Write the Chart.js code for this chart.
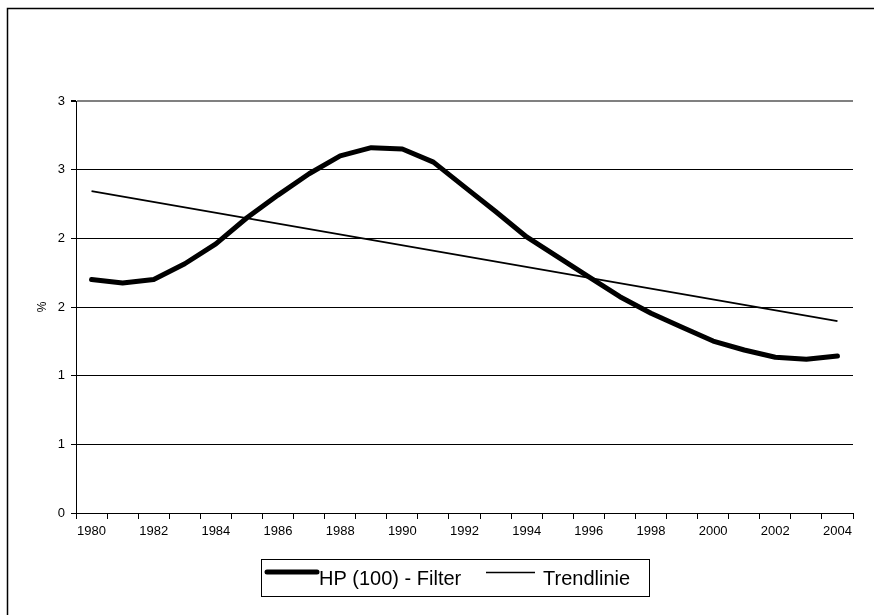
<!DOCTYPE html>
<html>
<head>
<meta charset="utf-8">
<script src="https://cdn.jsdelivr.net/npm/chart.js@4/dist/chart.umd.min.js"></script>
<style>
  html, body { margin: 0; padding: 0; background: #fff; }
  #wrap { width: 874px; height: 615px; position: relative; }
</style>
</head>
<body>
<div id="wrap"><canvas id="c" width="874" height="615"></canvas></div>
<script>
const years = ['1980','1981','1982','1983','1984','1985','1986','1987','1988','1989','1990','1991','1992','1993','1994','1995','1996','1997','1998','1999','2000','2001','2002','2003','2004'];
const hpFilter = [1.70, 1.675, 1.70, 1.815, 1.96, 2.15, 2.315, 2.47, 2.60, 2.66, 2.65, 2.555, 2.375, 2.195, 2.01, 1.865, 1.72, 1.575, 1.455, 1.352, 1.252, 1.187, 1.134, 1.119, 1.143];
const trendStart = 2.344;
const trendEnd = 1.397;
const yTickLabels = ['0', '1', '1', '2', '2', '3', '3'];
const seriesLabels = ['HP (100) - Filter', 'Trendlinie'];
const yTitle = '%';

const trendData = years.map((y, i) => i === 0 ? trendStart : (i === years.length - 1 ? trendEnd : null));

const FONT = '"Liberation Sans", Arial, sans-serif';

const framePlugin = {
  id: 'frame',
  beforeDraw(chart) {
    const ctx = chart.ctx;
    ctx.save();
    ctx.fillStyle = '#fff';
    ctx.fillRect(0, 0, chart.width, chart.height);
    ctx.strokeStyle = '#000';
    ctx.lineWidth = 1.5;
    ctx.strokeRect(7.5, 8.5, 1000, 800);
    ctx.restore();
  }
};

const legendPlugin = {
  id: 'customLegend',
  afterDraw(chart) {
    const ctx = chart.ctx;
    const ds = chart.data.datasets;
    ctx.save();
    ctx.strokeStyle = '#000';
    ctx.lineWidth = 1;
    ctx.strokeRect(261.5, 559.5, 388, 37);
    ctx.font = '20px ' + FONT;
    ctx.fillStyle = '#000';
    ctx.textBaseline = 'alphabetic';
    ctx.lineCap = 'round';
    ctx.lineWidth = ds[0].borderWidth;
    ctx.beginPath(); ctx.moveTo(267, 572); ctx.lineTo(317, 572); ctx.stroke();
    ctx.fillText(ds[0].label, 319, 584.5);
    ctx.lineCap = 'butt';
    ctx.lineWidth = 1.4;
    ctx.beginPath(); ctx.moveTo(486, 572.5); ctx.lineTo(535, 572.5); ctx.stroke();
    ctx.fillText(ds[1].label, 543, 584.5);
    ctx.restore();
  }
};

new Chart(document.getElementById('c'), {
  type: 'line',
  data: {
    labels: years,
    datasets: [
      {
        label: seriesLabels[0],
        data: hpFilter,
        borderColor: '#000',
        backgroundColor: '#000',
        borderWidth: 5,
        borderCapStyle: 'round',
        borderJoinStyle: 'round',
        pointRadius: 0,
        tension: 0,
        fill: false
      },
      {
        label: seriesLabels[1],
        data: trendData,
        spanGaps: true,
        borderColor: '#000',
        backgroundColor: '#000',
        borderWidth: 1.8,
        pointRadius: 0,
        tension: 0,
        fill: false
      }
    ]
  },
  options: {
    responsive: false,
    animation: false,
    devicePixelRatio: 1,
    layout: { padding: { top: 101, right: 21, left: 0, bottom: 0 } },
    plugins: {
      legend: { display: false },
      tooltip: { enabled: false },
      title: { display: false }
    },
    scales: {
      x: {
        type: 'category',
        offset: true,
        afterFit(scale) { scale.height = 102; },
        border: { display: true, color: '#000', width: 1 },
        grid: {
          offset: true,
          drawOnChartArea: true,
          drawTicks: true,
          tickLength: 6,
          tickColor: '#000',
          color: (ctx) => ctx.index === years.length ? '#808080' : 'rgba(0,0,0,0)',
          lineWidth: (ctx) => ctx.index === years.length ? 2 : 1
        },
        ticks: {
          autoSkip: false,
          maxRotation: 0,
          minRotation: 0,
          padding: 5,
          color: '#000',
          font: { family: FONT, size: 13 },
          callback: (val, idx) => idx % 2 === 0 ? years[idx] : ''
        }
      },
      y: {
        min: 0,
        max: 3,
        afterFit(scale) { scale.width = 76; },
        border: { display: true, color: '#000', width: 1 },
        grid: {
          drawTicks: true,
          tickLength: 5,
          tickColor: '#000',
          color: (ctx) => (ctx.tick && ctx.tick.value === 3) ? '#808080' : '#000',
          lineWidth: (ctx) => (ctx.tick && ctx.tick.value === 3) ? 2 : 1
        },
        ticks: {
          stepSize: 0.5,
          padding: 6,
          color: '#000',
          font: { family: FONT, size: 13 },
          callback: (val, idx) => yTickLabels[idx]
        },
        title: {
          display: true,
          text: yTitle,
          color: '#000',
          font: { family: FONT, size: 12 },
          padding: { top: 35, bottom: 0 }
        }
      }
    }
  },
  plugins: [framePlugin, legendPlugin]
});
</script>
</body>
</html>
